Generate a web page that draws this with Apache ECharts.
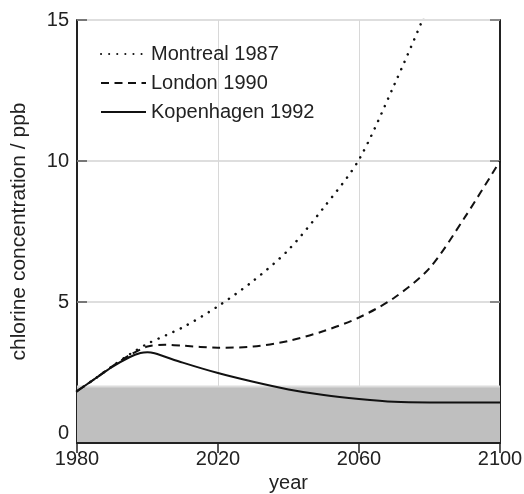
<!DOCTYPE html>
<html>
<head>
<meta charset="utf-8">
<script src="https://cdn.jsdelivr.net/npm/echarts@6/dist/echarts.min.js"></script>
<style>html,body{margin:0;padding:0;background:#fff}#c{width:524px;height:494px}</style>
</head>
<body>
<div id="c"></div>
<script>
const seriesNames = ['Montreal 1987', 'London 1990', 'Kopenhagen 1992'];
const montrealYears = [1980, 1985, 1990, 1995, 2000, 2010, 2020, 2030, 2040, 2050, 2060, 2070, 2078, 2082];
const montrealValues = [1.84, 2.27, 2.72, 3.15, 3.52, 4.1, 4.85, 5.75, 6.85, 8.35, 10.05, 12.7, 15.0, 16.3];
const londonYears = [1980, 1985, 1990, 1995, 2000, 2005, 2010, 2020, 2030, 2040, 2050, 2060, 2070, 2080, 2090, 2100];
const londonValues = [1.84, 2.27, 2.72, 3.12, 3.42, 3.48, 3.45, 3.38, 3.42, 3.62, 3.97, 4.45, 5.15, 6.2, 8.0, 10.0];
const kopenYears = [1980, 1985, 1990, 1995, 1998, 2000, 2002, 2010, 2020, 2030, 2040, 2050, 2060, 2070, 2080, 2090, 2100];
const kopenValues = [1.84, 2.27, 2.7, 3.05, 3.19, 3.22, 3.18, 2.85, 2.48, 2.17, 1.9, 1.7, 1.56, 1.46, 1.44, 1.44, 1.44];
const bandYears = [1980, 2100];
const bandValues = [2.0, 2.0];
const xTicks = [1980, 2020, 2060, 2100];
const yTicks = [0, 5, 10, 15];

const zip = (xs, ys) => xs.map((x, i) => [x, ys[i]]);
const font = 'Liberation Sans, Arial, sans-serif';
const chart = echarts.init(document.getElementById('c'), null, {renderer: 'canvas'});
chart.setOption({
  animation: false,
  backgroundColor: '#fff',
  grid: {left: 77, right: 24, top: 20, bottom: 51, outerBoundsMode: 'none', containLabel: false},
  legend: {
    orient: 'vertical', left: 95, top: 39, itemWidth: 45, itemHeight: 14, itemGap: 9,
    data: seriesNames,
    itemStyle: {opacity: 0},
    textStyle: {fontSize: 20, color: '#222', fontFamily: font}
  },
  xAxis: [{
    type: 'value', min: 1980, max: 2100, interval: 40,
    name: 'year', nameLocation: 'middle', nameGap: 30,
    nameTextStyle: {fontSize: 20, color: '#222', fontFamily: font},
    axisLine: {show: true, onZero: false, lineStyle: {color: '#222', width: 2}},
    axisTick: {show: false},
    axisLabel: {fontSize: 20, color: '#222', fontFamily: font, margin: 6,
      formatter: v => xTicks.includes(v) ? String(v) : ''},
    splitLine: {show: true, lineStyle: {color: '#d8d8d8', width: 1}}
  }, {
    type: 'value', min: 1980, max: 2100, interval: 40, position: 'top', z: 5,
    axisLine: {show: true, lineStyle: {color: '#222', width: 2}},
    axisTick: {show: true, inside: true, length: 10, lineStyle: {color: '#222', width: 1.5}},
    axisLabel: {show: false}, splitLine: {show: false}
  }],
  yAxis: [{
    type: 'value', min: 0, max: 15, interval: 5,
    name: 'chlorine concentration / ppb', nameLocation: 'middle', nameGap: 47, nameRotate: 90,
    nameTextStyle: {fontSize: 21, color: '#222', fontFamily: font},
    axisLine: {show: true, onZero: false, lineStyle: {color: '#222', width: 2}},
    axisTick: {show: true, inside: true, length: 10, lineStyle: {color: '#777', width: 2}},
    axisLabel: {fontSize: 20, color: '#222', fontFamily: font, margin: 8,
      verticalAlignMinLabel: 'bottom',
      formatter: v => yTicks.includes(v) ? String(v) : ''},
    splitLine: {show: true, lineStyle: {color: '#dedede', width: 2}}
  }, {
    type: 'value', min: 0, max: 15, interval: 5, position: 'right',
    axisLine: {show: true, lineStyle: {color: '#222', width: 2}},
    axisTick: {show: true, inside: true, length: 10, lineStyle: {color: '#888', width: 2}},
    axisLabel: {show: false}, splitLine: {show: false}
  }],
  series: [{
    name: 'band', type: 'line', data: zip(bandYears, bandValues), symbol: 'none', z: 1,
    lineStyle: {color: '#dcdcdc', width: 2}, areaStyle: {color: '#bfbfbf', opacity: 1},
    silent: true
  }, {
    name: seriesNames[0], type: 'line', data: zip(montrealYears, montrealValues), symbol: 'none', smooth: 0.3,
    lineStyle: {color: '#111', width: 2.5, type: [0.1, 8], cap: 'round'}, itemStyle: {color: '#111'}, z: 3
  }, {
    name: seriesNames[1], type: 'line', data: zip(londonYears, londonValues), symbol: 'none', smooth: 0.3,
    lineStyle: {color: '#111', width: 2, type: [8, 5.5]}, itemStyle: {color: '#111'}, z: 3
  }, {
    name: seriesNames[2], type: 'line', data: zip(kopenYears, kopenValues), symbol: 'none', smooth: 0.3,
    lineStyle: {color: '#111', width: 2}, itemStyle: {color: '#111'}, z: 3
  }]
});
</script>
</body>
</html>
